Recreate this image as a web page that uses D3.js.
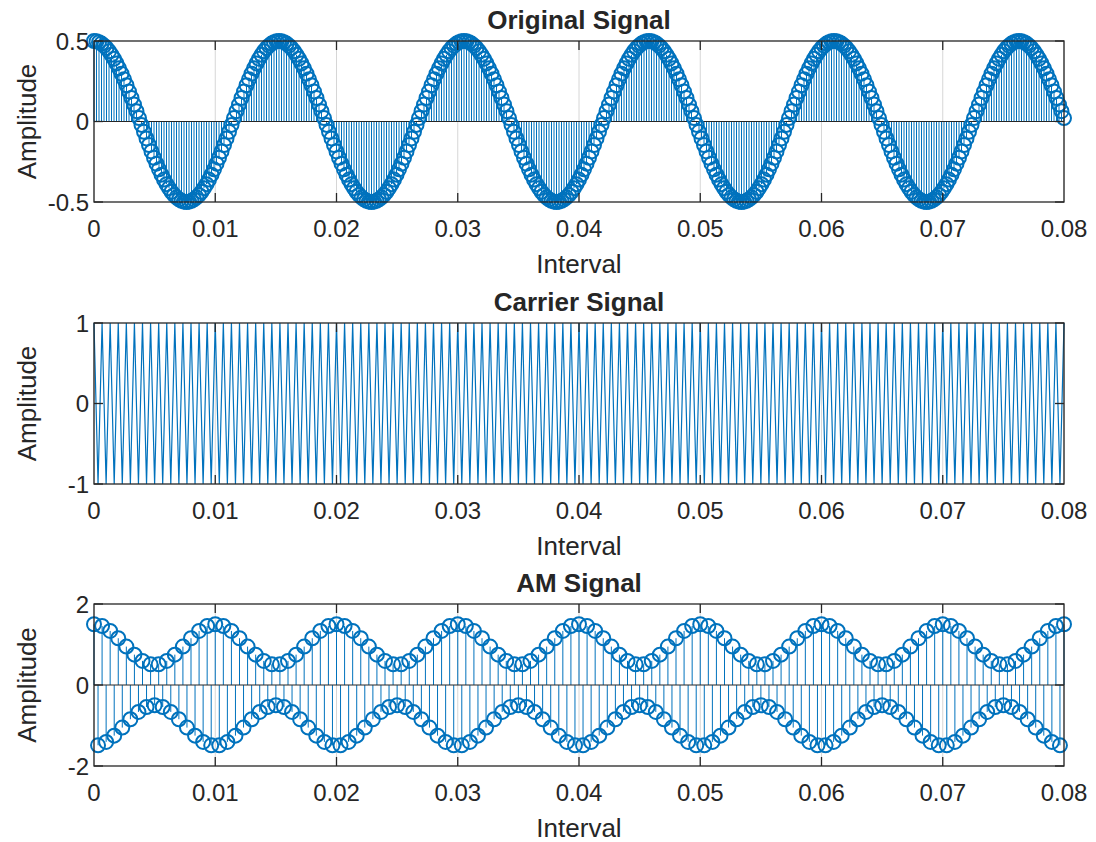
<!DOCTYPE html>
<html>
<head>
<meta charset="utf-8">
<script src="https://cdn.jsdelivr.net/npm/d3@7"></script>
<style>
  html, body { margin: 0; padding: 0; background: #fff; }
  svg { display: block; }
  text { font-family: "Liberation Sans", Arial, Helvetica, sans-serif; fill: #262626; }
</style>
</head>
<body>
<svg id="fig" width="1096" height="842"></svg>
<script>
// Sampled message (stem plot), 389 samples over 0.08 s
const originalSignal = [
  0.5,0.498,0.493,0.484,0.471,0.456,0.437,0.414,0.389,0.361,0.33,0.297,0.262,0.225,0.186,0.146,0.105,0.064,0.021,-0.021,-0.064,-0.105,-0.146,-0.186,-0.225,-0.262,-0.297,-0.33,-0.361,-0.389,-0.414,-0.437,-0.456,-0.471,-0.484,-0.493,-0.498,-0.5,-0.498,-0.493,-0.484,-0.471,-0.456,-0.437,-0.414,-0.389,-0.361,-0.33,-0.297,-0.262,-0.225,-0.186,-0.146,-0.105,-0.064,-0.021,0.021,0.064,0.105,0.146,0.186,0.225,0.262,0.297,0.33,0.361,0.389,0.414,0.437,0.456,0.471,0.484,0.493,0.498,
  0.5,0.498,0.493,0.484,0.471,0.456,0.437,0.414,0.389,0.361,0.33,0.297,0.262,0.225,0.186,0.146,0.105,0.064,0.021,-0.021,-0.064,-0.105,-0.146,-0.186,-0.225,-0.262,-0.297,-0.33,-0.361,-0.389,-0.414,-0.437,-0.456,-0.471,-0.484,-0.493,-0.498,-0.5,-0.498,-0.493,-0.484,-0.471,-0.456,-0.437,-0.414,-0.389,-0.361,-0.33,-0.297,-0.262,-0.225,-0.186,-0.146,-0.105,-0.064,-0.021,0.021,0.064,0.105,0.146,0.186,0.225,0.262,0.297,0.33,0.361,0.389,0.414,0.437,0.456,0.471,0.484,0.493,0.498,
  0.5,0.498,0.493,0.484,0.471,0.456,0.437,0.414,0.389,0.361,0.33,0.297,0.262,0.225,0.186,0.146,0.105,0.064,0.021,-0.021,-0.064,-0.105,-0.146,-0.186,-0.225,-0.262,-0.297,-0.33,-0.361,-0.389,-0.414,-0.437,-0.456,-0.471,-0.484,-0.493,-0.498,-0.5,-0.498,-0.493,-0.484,-0.471,-0.456,-0.437,-0.414,-0.389,-0.361,-0.33,-0.297,-0.262,-0.225,-0.186,-0.146,-0.105,-0.064,-0.021,0.021,0.064,0.105,0.146,0.186,0.225,0.262,0.297,0.33,0.361,0.389,0.414,0.437,0.456,0.471,0.484,0.493,0.498,
  0.5,0.498,0.493,0.484,0.471,0.456,0.437,0.414,0.389,0.361,0.33,0.297,0.262,0.225,0.186,0.146,0.105,0.064,0.021,-0.021,-0.064,-0.105,-0.146,-0.186,-0.225,-0.262,-0.297,-0.33,-0.361,-0.389,-0.414,-0.437,-0.456,-0.471,-0.484,-0.493,-0.498,-0.5,-0.498,-0.493,-0.484,-0.471,-0.456,-0.437,-0.414,-0.389,-0.361,-0.33,-0.297,-0.262,-0.225,-0.186,-0.146,-0.105,-0.064,-0.021,0.021,0.064,0.105,0.146,0.186,0.225,0.262,0.297,0.33,0.361,0.389,0.414,0.437,0.456,0.471,0.484,0.493,0.498,
  0.5,0.498,0.493,0.484,0.471,0.456,0.437,0.414,0.389,0.361,0.33,0.297,0.262,0.225,0.186,0.146,0.105,0.064,0.021,-0.021,-0.064,-0.105,-0.146,-0.186,-0.225,-0.262,-0.297,-0.33,-0.361,-0.389,-0.414,-0.437,-0.456,-0.471,-0.484,-0.493,-0.498,-0.5,-0.498,-0.493,-0.484,-0.471,-0.456,-0.437,-0.414,-0.389,-0.361,-0.33,-0.297,-0.262,-0.225,-0.186,-0.146,-0.105,-0.064,-0.021,0.021,0.064,0.105,0.146,0.186,0.225,0.262,0.297,0.33,0.361,0.389,0.414,0.437,0.456,0.471,0.484,0.493,0.498,
  0.5,0.498,0.493,0.484,0.471,0.456,0.437,0.414,0.389,0.361,0.33,0.297,0.262,0.225,0.186,0.146,0.105,0.064,0.021
];
const originalStep = 0.08 / 388;

// Carrier sampled at 3000 Hz, 241 samples
const carrierSignal = [
  1,-1,1,-1,1,-1,1,-1,1,-1,1,-1,1,-1,1,-1,1,-1,1,-1,1,-1,1,-1,1,-1,1,-1,1,-1,
  1,-1,1,-1,1,-1,1,-1,1,-1,1,-1,1,-1,1,-1,1,-1,1,-1,1,-1,1,-1,1,-1,1,-1,1,-1,
  1,-1,1,-1,1,-1,1,-1,1,-1,1,-1,1,-1,1,-1,1,-1,1,-1,1,-1,1,-1,1,-1,1,-1,1,-1,
  1,-1,1,-1,1,-1,1,-1,1,-1,1,-1,1,-1,1,-1,1,-1,1,-1,1,-1,1,-1,1,-1,1,-1,1,-1,
  1,-1,1,-1,1,-1,1,-1,1,-1,1,-1,1,-1,1,-1,1,-1,1,-1,1,-1,1,-1,1,-1,1,-1,1,-1,
  1,-1,1,-1,1,-1,1,-1,1,-1,1,-1,1,-1,1,-1,1,-1,1,-1,1,-1,1,-1,1,-1,1,-1,1,-1,
  1,-1,1,-1,1,-1,1,-1,1,-1,1,-1,1,-1,1,-1,1,-1,1,-1,1,-1,1,-1,1,-1,1,-1,1,-1,
  1,-1,1,-1,1,-1,1,-1,1,-1,1,-1,1,-1,1,-1,1,-1,1,-1,1,-1,1,-1,1,-1,1,-1,1,-1,
  1
];
const carrierStep = 1 / 3000;

// Modulated signal, same 3000 Hz sampling
const amSignal = [
  1.5,-1.489,1.457,-1.405,1.335,-1.25,1.155,-1.052,0.948,-0.845,0.75,-0.665,0.595,-0.543,0.511,-0.5,0.511,-0.543,0.595,-0.665,0.75,-0.845,0.948,-1.052,1.155,-1.25,1.335,-1.405,1.457,-1.489,
  1.5,-1.489,1.457,-1.405,1.335,-1.25,1.155,-1.052,0.948,-0.845,0.75,-0.665,0.595,-0.543,0.511,-0.5,0.511,-0.543,0.595,-0.665,0.75,-0.845,0.948,-1.052,1.155,-1.25,1.335,-1.405,1.457,-1.489,
  1.5,-1.489,1.457,-1.405,1.335,-1.25,1.155,-1.052,0.948,-0.845,0.75,-0.665,0.595,-0.543,0.511,-0.5,0.511,-0.543,0.595,-0.665,0.75,-0.845,0.948,-1.052,1.155,-1.25,1.335,-1.405,1.457,-1.489,
  1.5,-1.489,1.457,-1.405,1.335,-1.25,1.155,-1.052,0.948,-0.845,0.75,-0.665,0.595,-0.543,0.511,-0.5,0.511,-0.543,0.595,-0.665,0.75,-0.845,0.948,-1.052,1.155,-1.25,1.335,-1.405,1.457,-1.489,
  1.5,-1.489,1.457,-1.405,1.335,-1.25,1.155,-1.052,0.948,-0.845,0.75,-0.665,0.595,-0.543,0.511,-0.5,0.511,-0.543,0.595,-0.665,0.75,-0.845,0.948,-1.052,1.155,-1.25,1.335,-1.405,1.457,-1.489,
  1.5,-1.489,1.457,-1.405,1.335,-1.25,1.155,-1.052,0.948,-0.845,0.75,-0.665,0.595,-0.543,0.511,-0.5,0.511,-0.543,0.595,-0.665,0.75,-0.845,0.948,-1.052,1.155,-1.25,1.335,-1.405,1.457,-1.489,
  1.5,-1.489,1.457,-1.405,1.335,-1.25,1.155,-1.052,0.948,-0.845,0.75,-0.665,0.595,-0.543,0.511,-0.5,0.511,-0.543,0.595,-0.665,0.75,-0.845,0.948,-1.052,1.155,-1.25,1.335,-1.405,1.457,-1.489,
  1.5,-1.489,1.457,-1.405,1.335,-1.25,1.155,-1.052,0.948,-0.845,0.75,-0.665,0.595,-0.543,0.511,-0.5,0.511,-0.543,0.595,-0.665,0.75,-0.845,0.948,-1.052,1.155,-1.25,1.335,-1.405,1.457,-1.489,
  1.5
];
const amStep = 1 / 3000;

// Axis ticks and labels
const xTicks = [0, 0.01, 0.02, 0.03, 0.04, 0.05, 0.06, 0.07, 0.08];
const xTickLabels = ["0", "0.01", "0.02", "0.03", "0.04", "0.05", "0.06", "0.07", "0.08"];
const panelTitles = ["Original Signal", "Carrier Signal", "AM Signal"];
const yTicksOriginal = [-0.5, 0, 0.5];
const yTicksCarrier = [-1, 0, 1];
const yTicksAM = [-2, 0, 2];
const xAxisLabel = "Interval";
const yAxisLabel = "Amplitude";

const BLUE = "#0072BD";
const AXIS = "#262626";
const svg = d3.select("#fig");

const left = 94, right = 1064;
const x = d3.scaleLinear().domain([0, 0.08]).range([left, right]);

function panel(cfg) {
  const { top, bottom, yDomain, yTicks, title, values, step, kind } = cfg;
  const y = d3.scaleLinear().domain(yDomain).range([bottom, top]);
  const g = svg.append("g");
  const pts = values.map((v, i) => ({ t: i * step, v }));

  // vertical grid
  g.append("g").selectAll("line").data(xTicks).join("line")
    .attr("x1", d => x(d)).attr("x2", d => x(d))
    .attr("y1", top).attr("y2", bottom)
    .attr("stroke", "#d6d6d6").attr("stroke-width", 1);

  if (kind === "stem") {
    g.append("g").selectAll("line").data(pts).join("line")
      .attr("x1", d => x(d.t)).attr("x2", d => x(d.t))
      .attr("y1", y(0)).attr("y2", d => y(d.v))
      .attr("stroke", BLUE).attr("stroke-width", 1);
    g.append("line")
      .attr("x1", left).attr("x2", right)
      .attr("y1", y(0)).attr("y2", y(0))
      .attr("stroke", AXIS).attr("stroke-width", 1.2);
    g.append("g").selectAll("circle").data(pts).join("circle")
      .attr("cx", d => x(d.t)).attr("cy", d => y(d.v))
      .attr("r", 7)
      .attr("fill", "none").attr("stroke", BLUE).attr("stroke-width", 2);
  } else {
    const line = d3.line().x(d => x(d.t)).y(d => y(d.v));
    g.append("path").datum(pts).attr("d", line)
      .attr("fill", "none").attr("stroke", BLUE).attr("stroke-width", 1.2);
  }

  // box
  g.append("rect").attr("x", left).attr("y", top)
    .attr("width", right - left).attr("height", bottom - top)
    .attr("fill", "none").attr("stroke", AXIS).attr("stroke-width", 1.3);

  const tl = 9;
  // x ticks (inside, bottom and top)
  const xt = g.append("g");
  xt.selectAll("line.b").data(xTicks.slice(1, -1)).join("line")
    .attr("x1", d => x(d)).attr("x2", d => x(d))
    .attr("y1", bottom).attr("y2", bottom - tl)
    .attr("stroke", AXIS).attr("stroke-width", 1.3);
  xt.selectAll("line.t").data(xTicks.slice(1, -1)).enter().append("line")
    .attr("x1", d => x(d)).attr("x2", d => x(d))
    .attr("y1", top).attr("y2", top + tl)
    .attr("stroke", AXIS).attr("stroke-width", 1.3);
  // y ticks (inside, left and right)
  const yt = g.append("g");
  yt.selectAll("line.l").data(yTicks).join("line")
    .attr("x1", left).attr("x2", left + tl)
    .attr("y1", d => y(d)).attr("y2", d => y(d))
    .attr("stroke", AXIS).attr("stroke-width", 1.3);
  yt.selectAll("line.r").data(yTicks).enter().append("line")
    .attr("x1", right).attr("x2", right - tl)
    .attr("y1", d => y(d)).attr("y2", d => y(d))
    .attr("stroke", AXIS).attr("stroke-width", 1.3);

  // tick labels
  g.append("g").selectAll("text").data(xTicks).join("text")
    .attr("x", d => x(d)).attr("y", bottom + 26)
    .attr("text-anchor", "middle").attr("dominant-baseline", "central")
    .attr("font-size", 24)
    .text((d, i) => xTickLabels[i]);
  g.append("g").selectAll("text").data(yTicks).join("text")
    .attr("x", left - 5).attr("y", d => y(d))
    .attr("text-anchor", "end").attr("dominant-baseline", "central")
    .attr("font-size", 24)
    .text(d => d3.format("")(d).replace("−", "-"));

  // axis labels and title
  g.append("text").attr("x", (left + right) / 2).attr("y", bottom + 62)
    .attr("text-anchor", "middle").attr("dominant-baseline", "central")
    .attr("font-size", 26).text(xAxisLabel);
  g.append("text")
    .attr("transform", `translate(${27},${(top + bottom) / 2}) rotate(-90)`)
    .attr("text-anchor", "middle").attr("dominant-baseline", "central")
    .attr("font-size", 26).text(yAxisLabel);
  g.append("text").attr("x", (left + right) / 2).attr("y", top - 21)
    .attr("text-anchor", "middle").attr("dominant-baseline", "central")
    .attr("font-size", 26).attr("font-weight", "bold").attr("fill", "#000")
    .text(title);
}

panel({ top: 41, bottom: 202, yDomain: [-0.5, 0.5], yTicks: yTicksOriginal,
        title: panelTitles[0], values: originalSignal, step: originalStep, kind: "stem" });
panel({ top: 323, bottom: 484, yDomain: [-1, 1], yTicks: yTicksCarrier,
        title: panelTitles[1], values: carrierSignal, step: carrierStep, kind: "line" });
panel({ top: 604, bottom: 766, yDomain: [-2, 2], yTicks: yTicksAM,
        title: panelTitles[2], values: amSignal, step: amStep, kind: "stem" });
</script>
</body>
</html>
